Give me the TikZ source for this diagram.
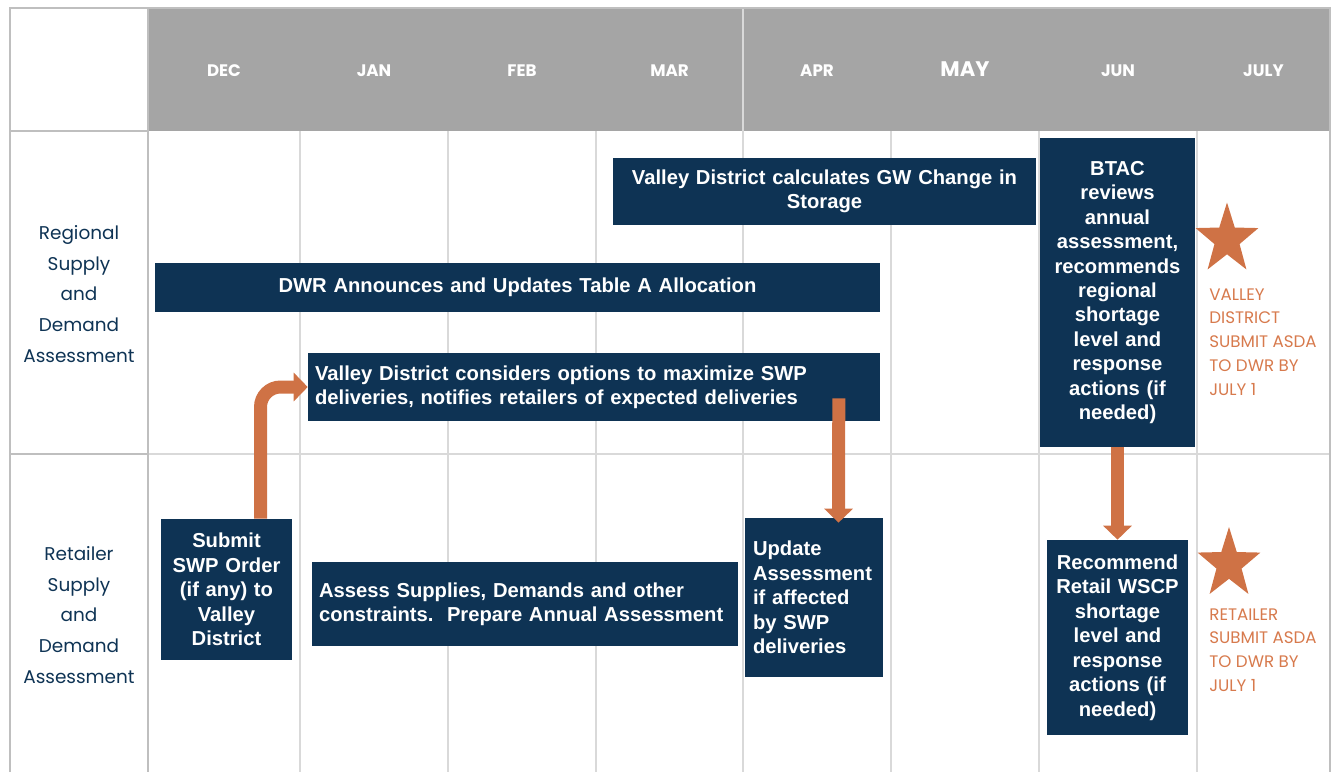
\documentclass[tikz,border=0pt]{standalone}
\usepackage{fontspec}
\setmainfont{Liberation Sans}
\newfontfamily\geofont{Poppins}
\usetikzlibrary{arrows.meta,calc}
\definecolor{navy}{HTML}{0E3354}
\definecolor{headgray}{HTML}{A5A5A5}
\definecolor{gridgray}{HTML}{D9D9D9}
\definecolor{bordergray}{HTML}{BFBFBF}
\definecolor{arroworange}{HTML}{CF7245}
\definecolor{deadlineorange}{HTML}{D77A4D}
\begin{document}
\begin{tikzpicture}[x=0.02cm,y=-0.02cm,
  taskbox/.style={fill=navy,text=white,inner xsep=0.14cm,inner ysep=0pt,font=\fontsize{11.5}{13.9}\selectfont\bfseries},
  monthlabel/.style={text=white,font=\geofont\fontsize{9.5}{10}\selectfont\bfseries},
  rowlabel/.style={text=navy,align=center,font=\geofont\fontsize{10.5}{17.6}\selectfont},
  deadline/.style={text=deadlineorange,align=left,anchor=north west,inner sep=0pt,font=\geofont\fontsize{9.5}{13.6}\selectfont},
  starfill/.style={fill=arroworange},
  bigarrow/.style={draw=arroworange,line width=0.26cm,-{Triangle[length=0.28cm,width=0.56cm]}},
  gridline/.style={draw=gridgray,line width=1.1pt},
  borderline/.style={draw=bordergray,line width=1.1pt}]
\useasboundingbox (0,0) rectangle (1335,772);

% table grid
\fill[headgray] (148,8) rectangle (1330,131);
\foreach \x in {300,448,596,743,891,1039,1197}
  \draw[gridline] (\x,131) -- (\x,772);
\draw[gridline] (743,8) -- (743,131);
\draw[gridline] (148,454) -- (1330,454);
\draw[borderline] (10,131) -- (148,131);
\draw[borderline] (10,454) -- (148,454);
\draw[borderline] (10,772) -- (10,8) -- (1330,8) -- (1330,772);
\draw[borderline] (148,8) -- (148,772);

% months
\foreach \m/\x in {DEC/224,JAN/374,FEB/522,MAR/669.5,APR/817,JUN/1118,JULY/1263.5}
  \node[monthlabel] (m-\m) at (\x,71) {\m};
\node[monthlabel,font=\geofont\fontsize{12}{13}\selectfont\bfseries] (m-MAY) at (965,69) {MAY};

% row titles
\node[rowlabel] (regional) at (79,294) {Regional\\Supply\\and\\Demand\\Assessment};
\node[rowlabel] (retailer) at (79,615) {Retailer\\Supply\\and\\Demand\\Assessment};

% regional tasks
\node[taskbox,text width=8.18cm,minimum height=1.34cm,align=center] (gwbox) at (824.5,191.5)
  {Valley District calculates GW Change in\\Storage};
\node[taskbox,text width=14.22cm,minimum height=0.98cm,align=center] (dwrbox) at (517.5,287.5)
  {DWR Announces and Updates Table A Allocation};
\node[taskbox,text width=11.16cm,minimum height=1.36cm,align=left] (swpbox) at (594,387)
  {Valley District considers options to maximize SWP\\deliveries, notifies retailers of expected deliveries};
\node[taskbox,text width=2.82cm,minimum height=6.18cm,align=center] (btacbox) at (1117.5,292.5)
  {BTAC\\reviews\\annual\\assessment,\\recommends\\regional\\shortage\\level and\\response\\actions (if\\needed)};

% retailer tasks
\node[taskbox,text width=2.34cm,minimum height=2.82cm,align=center] (orderbox) at (226.5,589.5)
  {Submit\\SWP Order\\(if any) to\\Valley\\District};
\node[taskbox,text width=8.24cm,minimum height=1.68cm,align=left] (assessbox) at (525,604)
  {Assess Supplies, Demands and other\\constraints.\ \ Prepare Annual Assessment};
\node[taskbox,inner xsep=0.16cm,text width=2.44cm,minimum height=3.18cm,align=left] (updatebox) at (814,597.5)
  {Update\\Assessment\\if affected\\by SWP\\deliveries};
\node[taskbox,text width=2.54cm,minimum height=3.9cm,align=center] (wscpbox) at (1117.5,637.5)
  {Recommend\\Retail WSCP\\shortage\\level and\\response\\actions (if\\needed)};

% deadlines
\foreach \s/\cx/\cy in {starA/1227/239.5,starB/1229/564} {
  \coordinate (\s) at (\cx,\cy);
  \fill[starfill] ([shift={(-90:33 and 37)}]\s)
    \foreach \k [evaluate=\k as \a using {-90+36*\k},
                 evaluate=\k as \rx using {mod(\k,2)==0 ? 33 : 13.2},
                 evaluate=\k as \ry using {mod(\k,2)==0 ? 37 : 14.8}] in {1,...,9}
      { -- ([shift={(\a:{\rx} and {\ry})}]\s) } -- cycle;
}
\node[deadline] (valleydue) at (1209,288) {VALLEY\\DISTRICT\\SUBMIT ASDA\\TO DWR BY\\JULY 1};
\node[deadline] (retaildue) at (1209,608) {RETAILER\\SUBMIT ASDA\\TO DWR BY\\JULY 1};

% arrows
\coordinate (a1start) at ($(orderbox.north)+(34,0)$);
\coordinate (a2start) at ($(swpbox.south east)+(-41.5,-23)$);
\coordinate (a2end) at ($(updatebox.north)+(24.5,5)$);
\draw[bigarrow,rounded corners=0.4cm] (a1start) |- (swpbox.west);
\draw[bigarrow] (a2start) -- (a2end);
\draw[bigarrow] (btacbox.south) -- (wscpbox.north);
\end{tikzpicture}
\end{document}
